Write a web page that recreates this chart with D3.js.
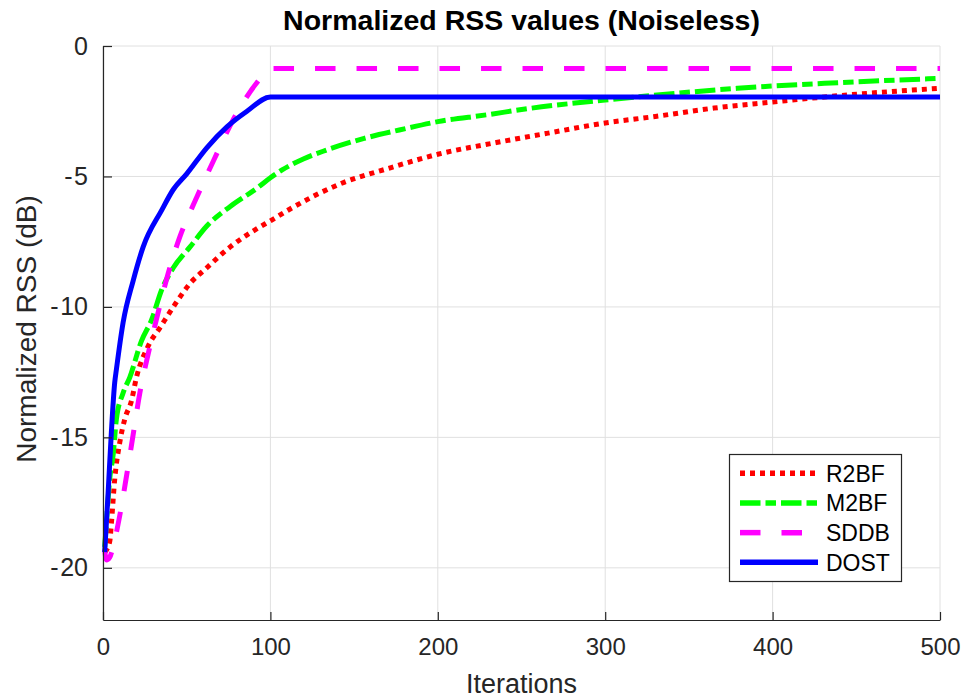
<!DOCTYPE html>
<html>
<head>
<meta charset="utf-8">
<script src="https://cdn.jsdelivr.net/npm/d3@7"></script>
<style>
  html, body { margin: 0; padding: 0; background: #fff; }
  svg { display: block; }
  text { font-family: "Liberation Sans", Arial, Helvetica, sans-serif; }
</style>
</head>
<body>
<svg id="chart" width="963" height="698"></svg>
<script>
// ---- data ----
const xTicks = [0, 100, 200, 300, 400, 500];
const yTicks = [0, -5, -10, -15, -20];
const seriesNames = ["R2BF", "M2BF", "SDDB", "DOST"];

const r2bfIter = [1, 4, 5, 7, 10, 13, 17, 20, 27, 34, 42, 52, 62, 76, 92, 100, 113, 143, 170, 200, 235, 265, 300, 330, 365, 400, 435, 470, 500];
const r2bfVal  = [-19.4, -19.0, -18.3, -16.6, -15.2, -14.3, -13.6, -12.7, -11.5, -10.8, -10.0, -9.1, -8.5, -7.7, -7.0, -6.7, -6.2, -5.25, -4.7, -4.15, -3.7, -3.35, -2.95, -2.7, -2.38, -2.15, -1.93, -1.75, -1.62];

const m2bfIter = [1, 2, 4, 6, 8, 12, 16, 23, 29, 35, 42, 52, 62, 76, 92, 100, 107, 120, 133, 156, 177, 200, 229, 255, 300, 343, 379, 431, 500];
const m2bfVal  = [-19.2, -18.3, -16.6, -15.7, -14.3, -13.3, -12.7, -11.3, -10.5, -9.35, -8.5, -7.7, -6.9, -6.15, -5.45, -5.05, -4.75, -4.32, -4.0, -3.54, -3.22, -2.9, -2.64, -2.39, -2.07, -1.81, -1.62, -1.43, -1.24];

const sddbIter = [1, 2, 4, 6, 10, 14, 18, 22, 27, 33, 39, 46, 56, 66, 78, 92, 100, 500];
const sddbVal  = [-19.3, -19.7, -19.6, -19.2, -18.0, -16.5, -14.9, -13.3, -11.8, -10.2, -8.7, -7.3, -5.8, -4.4, -2.8, -1.4, -0.86, -0.86];

const dostIter = [1, 3, 5, 7, 8, 12, 18, 24, 35, 42, 50, 62, 74, 86, 100, 500];
const dostVal  = [-19.4, -17.2, -14.8, -12.9, -12.4, -10.6, -9.0, -7.7, -6.3, -5.5, -4.9, -3.9, -3.1, -2.5, -1.95, -1.95];

// ---- styles ----
const styles = {
  R2BF: { color: "#ff0000", dash: "5,5" },
  M2BF: { color: "#00ff00", dash: "20.5,5,10.5,5" },
  SDDB: { color: "#ff00ff", dash: "20.5,21" },
  DOST: { color: "#0000ff", dash: null }
};

const series = [
  { name: "R2BF", x: r2bfIter, y: r2bfVal },
  { name: "M2BF", x: m2bfIter, y: m2bfVal },
  { name: "SDDB", x: sddbIter, y: sddbVal },
  { name: "DOST", x: dostIter, y: dostVal }
];

const svg = d3.select("#chart");
const L = 103, R = 940, T = 46, B = 620;
const axisColor = "#262626";
const gridColor = "#e0e0e0";

const x = d3.scaleLinear().domain([0, 500]).range([L, R]);
const y = d3.scaleLinear().domain([-22, 0]).range([B, T]);

// grid
const grid = svg.append("g");
grid.selectAll("line.gx").data(xTicks).join("line")
  .attr("x1", d => x(d)).attr("x2", d => x(d))
  .attr("y1", T).attr("y2", B)
  .attr("stroke", gridColor).attr("stroke-width", 1);
grid.selectAll("line.gy").data(yTicks).join("line")
  .attr("x1", L).attr("x2", R)
  .attr("y1", d => y(d)).attr("y2", d => y(d))
  .attr("stroke", gridColor).attr("stroke-width", 1);

// series lines
const line = d3.line().x(d => x(d[0])).y(d => y(d[1])).curve(d3.curveMonotoneX);
const plot = svg.append("g");
series.forEach(s => {
  const pts = s.x.map((v, i) => [v, s.y[i]]);
  const st = styles[s.name];
  const p = plot.append("path")
    .attr("d", line(pts))
    .attr("fill", "none")
    .attr("stroke", st.color)
    .attr("stroke-width", 5)
    .attr("stroke-linejoin", "round");
  if (st.dash) p.attr("stroke-dasharray", st.dash);
});

// axes
const xAxis = d3.axisBottom(x).tickValues(xTicks).tickSizeInner(-8).tickSizeOuter(0).tickPadding(18)
  .tickFormat(d3.format("d"));
const gx = svg.append("g").attr("transform", `translate(0,${B})`).call(xAxis);
const yAxis = d3.axisLeft(y).tickValues(yTicks).tickSizeInner(-9).tickSizeOuter(0).tickPadding(15)
  .tickFormat(d => String(Math.abs(d)));
const gy = svg.append("g").attr("transform", `translate(${L},0)`).call(yAxis);

[gx, gy].forEach(g => {
  g.select(".domain").attr("stroke", axisColor).attr("stroke-width", 1.2);
  g.selectAll(".tick line").attr("stroke", axisColor).attr("stroke-width", 1.2);
  g.selectAll(".tick text").attr("fill", axisColor)
    .style("font-family", "'Liberation Sans', Arial, sans-serif").style("font-size", "24px");
});
gy.selectAll(".tick text").style("font-size", "25px");
// negative y tick labels: hyphen with a little extra room, as in the reference
gy.selectAll(".tick text").each(function(d) {
  if (d < 0) {
    const t = d3.select(this);
    const num = String(Math.abs(d));
    t.text(null);
    t.append("tspan").text("-");
    t.append("tspan").attr("dx", 1.5).text(num);
  }
});

// title and labels
svg.append("text")
  .attr("x", (L + R) / 2).attr("y", 30)
  .attr("text-anchor", "middle")
  .style("font-size", "28.5px").style("font-weight", "bold").attr("fill", "#000")
  .text("Normalized RSS values (Noiseless)");

svg.append("text")
  .attr("x", (L + R) / 2).attr("y", 693)
  .attr("text-anchor", "middle")
  .style("font-size", "27px").attr("fill", axisColor)
  .text("Iterations");

svg.append("text")
  .attr("transform", `translate(36,${(T + B) / 2 - 4}) rotate(-90)`)
  .attr("text-anchor", "middle")
  .style("font-size", "28px").attr("fill", axisColor)
  .text("Normalized RSS (dB)");

// legend
const lg = svg.append("g");
lg.append("rect")
  .attr("x", 729.5).attr("y", 454.5).attr("width", 172).attr("height", 127)
  .attr("fill", "#fff").attr("stroke", axisColor).attr("stroke-width", 1.2);
const rowY = d3.scaleLinear().domain([0, 3]).range([473.3, 562.3]);
seriesNames.forEach((n, i) => {
  const st = styles[n];
  const ln = lg.append("line")
    .attr("x1", 740).attr("x2", 818)
    .attr("y1", rowY(i)).attr("y2", rowY(i))
    .attr("stroke", st.color).attr("stroke-width", 5.5);
  if (st.dash) ln.attr("stroke-dasharray", st.dash);
  lg.append("text")
    .attr("x", 826).attr("y", rowY(i) + 8.3)
    .style("font-size", "23px").attr("fill", "#000")
    .text(n);
});
</script>
</body>
</html>
